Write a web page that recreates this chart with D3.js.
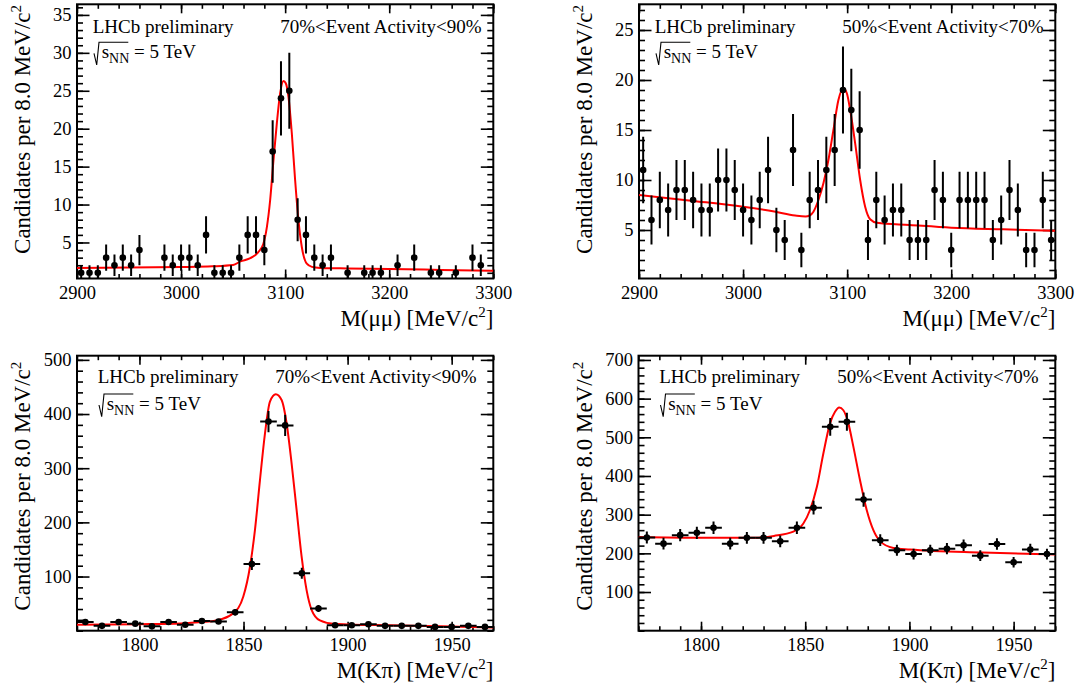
<!DOCTYPE html>
<html><head><meta charset="utf-8">
<script src="https://cdn.jsdelivr.net/npm/d3@7"></script>
<style>
html,body{margin:0;padding:0;background:#fff;}
svg{display:block;}
text{font-family:"Liberation Serif","Times New Roman",Times,serif;fill:#000;}
</style></head><body>
<svg id="chart" width="1078" height="689"></svg>
<script>
// ---------------- DATA ----------------
// J/psi -> mu mu, bin centres (8 MeV bins)
const jpsiMass = [2904,2912,2920,2928,2936,2944,2952,2960,2968,2976,2984,2992,3000,3008,3016,3024,3032,3040,3048,3056,
  3064,3072,3080,3088,3096,3104,3112,3120,3128,3136,3144,3152,3160,3168,3176,3184,3192,3200,3208,3216,
  3224,3232,3240,3248,3256,3264,3272,3280,3288,3296];
const jpsiCounts7090 = [1,1,1,3,2,3,2,4,0,0,3,2,3,3,2,6,1,1,1,3,
  6,6,4,17,24,25,8,6,3,2,3,0,1,0,1,1,1,0,2,0,
  3,0,1,1,0,1,0,3,2,0];
const jpsiCounts5070 = [11,6,8,7,9,9,8,7,7,10,10,9,7,6,8,11,5,4,13,3,
  8,9,11,13,19,17,15,4,8,6,7,7,4,4,4,9,8,3,8,8,
  8,8,4,6,9,7,3,3,8,4];
// fit curves
const jpsiFitMass7090 = [2900,2950,3000,3030,3050,3057,3066,3074,3079,3082.4,3085.6,3088.8,3092,3095.2,3098.4,3100.6,3103.2,3106.4,3109.6,3112.8,3116,3120.8,3125.7,3133.6,3160,3200,3250,3300];
const jpsiFitVal7090  = [1.65,1.70,1.76,1.85,2.02,2.5,2.9,3.7,4.8,7.0,10.6,15.9,20.7,24.7,26.3,26.0,24.2,19.4,13.2,7.9,4.4,2.2,1.78,1.65,1.57,1.5,1.38,1.26];
const jpsiFitMass5070 = [2900,2950,3000,3030,3050,3060,3064,3067.6,3072.4,3077.2,3082,3086.8,3091.6,3096.4,3099.7,3102.9,3107.7,3112.5,3117.3,3122.1,3128.6,3160,3200,3250,3300];
const jpsiFitVal5070  = [8.5,7.93,7.33,6.85,6.45,6.35,6.45,6.83,8.0,9.67,12.0,15.0,18.0,19.17,18.67,17.0,13.67,10.0,7.33,6.07,5.72,5.5,5.23,5.07,4.93];

// D0 -> K pi, bin centres (8 MeV bins)
const d0Mass = [1774,1782,1790,1798,1806,1814,1822,1830,1838,1846,1854,1862,1870,1878,1886,1894,1902,1910,1918,1926,1934,1942,1950,1958,1966];
const d0Counts7090 = [16,9,16,13,8,16,11,18,17,34,123,386,379,106,41,10,10,12,9,9,9,7,7,9,7];
const d0Counts5070 = [241,225,247,253,266,225,240,240,231,266,318,527,540,339,234,208,198,208,212,221,194,224,177,210,198];
const d0FitMass7090 = [1770,1800,1820,1830,1837,1845,1849.9,1853.1,1855.5,1857.9,1860.3,1862.7,1865.5,1868.3,1870.7,1873.1,1875.5,1877.9,1880.3,1882.7,1886.7,1893,1900,1920,1945,1970];
const d0FitVal7090  = [11,12,13.5,16,19,32,63,118,186,278,364,423,436.5,426,383,309,223,137,75,38.6,18.9,12.7,11.5,10,8,6];
const d0FitMass5070 = [1770,1800,1825,1835,1844.3,1849.1,1852.3,1855.6,1858.7,1861.9,1864.3,1866.3,1868.3,1870.7,1873.1,1876.3,1879.5,1882.7,1885.9,1892.3,1900.3,1935,1970];
const d0FitVal5070  = [242,240,240,245,256,277,312,372,458,536,566,577,570,536,476,389,312,260,231.6,214,210,202,197];

// axis ranges and tick labels
const jpsiXRange = [2900, 3300];
const d0XRange = [1770, 1970];
const jpsiXTicks = [2900, 3000, 3100, 3200, 3300];
const d0XTicks = [1800, 1850, 1900, 1950];
const yTicksJpsi7090 = [5, 10, 15, 20, 25, 30, 35];
const yTicksJpsi5070 = [5, 10, 15, 20, 25];
const yTicksD07090 = [100, 200, 300, 400, 500];
const yTicksD05070 = [100, 200, 300, 400, 500, 600, 700];
const labels = ["70%<Event Activity<90%", "50%<Event Activity<70%"];

// ---------------- LAYOUT ----------------
const panels = [
  {mass: jpsiMass, counts: jpsiCounts7090, fm: jpsiFitMass7090, fv: jpsiFitVal7090, xd: jpsiXRange, yd: [0.25, 36.4],
   xt: jpsiXTicks, xminor: 20, yt: yTicksJpsi7090, yminor: 1, label: labels[0], xtitle: "mm", xerr: false,
   box: {l: 77, r: 493.3, t: 4.3, b: 278.5}, row: 0},
  {mass: jpsiMass, counts: jpsiCounts5070, fm: jpsiFitMass5070, fv: jpsiFitVal5070, xd: jpsiXRange, yd: [0.15, 27.57],
   xt: jpsiXTicks, xminor: 20, yt: yTicksJpsi5070, yminor: 1, label: labels[1], xtitle: "mm", xerr: false,
   box: {l: 639, r: 1055.3, t: 4.3, b: 278.5}, row: 0},
  {mass: d0Mass, counts: d0Counts7090, fm: d0FitMass7090, fv: d0FitVal7090, xd: d0XRange, yd: [0, 507.7],
   xt: d0XTicks, xminor: 10, yt: yTicksD07090, yminor: 20, label: labels[0], xtitle: "kp", xerr: true,
   box: {l: 77, r: 493.3, t: 355.7, b: 630.7}, row: 1},
  {mass: d0Mass, counts: d0Counts5070, fm: d0FitMass5070, fv: d0FitVal5070, xd: d0XRange, yd: [0, 711],
   xt: d0XTicks, xminor: 10, yt: yTicksD05070, yminor: 20, label: labels[1], xtitle: "kp", xerr: true,
   box: {l: 638.5, r: 1055.3, t: 355.7, b: 630.7}, row: 1}
];
const rowText = [
  {lx: 15.7, lhcbY: 29, sqrtY: 54, rx: 11.7, ytEnd: 0.7},
  {lx: 20.7, lhcbY: 27, sqrtY: 54.3, rx: 16.8, ytEnd: 6}
];

const svg = d3.select("#chart");
const FONT = '"Liberation Serif","Times New Roman",Times,serif';

panels.forEach((p, i) => {
  const b = p.box;
  const rt = rowText[p.row];
  const x = d3.scaleLinear().domain(p.xd).range([b.l, b.r]);
  const y = d3.scaleLinear().domain(p.yd).range([b.b, b.t]);
  const g = svg.append("g");

  const clipId = "clip" + i;
  svg.append("clipPath").attr("id", clipId).append("rect")
    .attr("x", b.l).attr("y", b.t).attr("width", b.r - b.l).attr("height", b.b - b.t);

  // minor/major ticks
  const xMinorVals = d3.range(p.xd[0], p.xd[1] + 0.001, p.xminor);
  const yMinorVals = d3.range(Math.ceil(p.yd[0] / p.yminor) * p.yminor, p.yd[1], p.yminor);
  const styleAxis = sel => {
    sel.select(".domain").remove();
    sel.selectAll("line").attr("stroke", "#000").attr("stroke-width", 1.6);
    sel.attr("font-family", FONT).attr("font-size", 18.5);
    sel.selectAll("text").attr("fill", "#000");
  };
  g.append("g").attr("transform", `translate(0,${b.b})`)
    .call(d3.axisBottom(x).tickValues(xMinorVals).tickSize(-4.5).tickFormat("")).call(styleAxis);
  g.append("g").attr("transform", `translate(0,${b.b})`)
    .call(d3.axisBottom(x).tickValues(p.xt).tickSize(-9).tickPadding(7).tickFormat(d3.format("d"))).call(styleAxis);
  g.append("g").attr("transform", `translate(0,${b.t})`)
    .call(d3.axisTop(x).tickValues(xMinorVals).tickSize(-4.5).tickFormat("")).call(styleAxis);
  g.append("g").attr("transform", `translate(0,${b.t})`)
    .call(d3.axisTop(x).tickValues(p.xt).tickSize(-9).tickFormat("")).call(styleAxis);

  g.append("g").attr("transform", `translate(${b.l},0)`)
    .call(d3.axisLeft(y).tickValues(yMinorVals).tickSize(-6).tickFormat("")).call(styleAxis);
  g.append("g").attr("transform", `translate(${b.l},0)`)
    .call(d3.axisLeft(y).tickValues(p.yt).tickSize(-12.5).tickPadding(5.5).tickFormat(d3.format("d"))).call(styleAxis);
  g.append("g").attr("transform", `translate(${b.r},0)`)
    .call(d3.axisRight(y).tickValues(yMinorVals).tickSize(-6).tickFormat("")).call(styleAxis);
  g.append("g").attr("transform", `translate(${b.r},0)`)
    .call(d3.axisRight(y).tickValues(p.yt).tickSize(-12.5).tickFormat("")).call(styleAxis);

  // frame
  g.append("rect").attr("x", b.l).attr("y", b.t).attr("width", b.r - b.l).attr("height", b.b - b.t)
    .attr("fill", "none").attr("stroke", "#000").attr("stroke-width", 2);

  const plot = g.append("g").attr("clip-path", `url(#${clipId})`);

  // fit curve
  const fit = p.fm.map((m, k) => [m, p.fv[k]]);
  plot.append("path").datum(fit)
    .attr("d", d3.line().x(d => x(d[0])).y(d => y(d[1])).curve(d3.curveMonotoneX))
    .attr("fill", "none").attr("stroke", "#ff0000").attr("stroke-width", 2);

  // data points
  const pts = p.mass.map((m, k) => ({m, v: p.counts[k]})).filter(d => d.v > 0);
  const halfBin = (p.mass[1] - p.mass[0]) / 2;
  plot.selectAll(".ey").data(pts).enter().append("line")
    .attr("x1", d => x(d.m)).attr("x2", d => x(d.m))
    .attr("y1", d => y(d.v - Math.sqrt(d.v))).attr("y2", d => y(d.v + Math.sqrt(d.v)))
    .attr("stroke", "#000").attr("stroke-width", 2);
  if (p.xerr) {
    plot.selectAll(".ex").data(pts).enter().append("line")
      .attr("x1", d => x(d.m - halfBin)).attr("x2", d => x(d.m + halfBin))
      .attr("y1", d => y(d.v)).attr("y2", d => y(d.v))
      .attr("stroke", "#000").attr("stroke-width", 2);
  }
  plot.selectAll(".pt").data(pts).enter().append("circle")
    .attr("cx", d => x(d.m)).attr("cy", d => y(d.v)).attr("r", 3.3).attr("fill", "#000");

  // texts
  const tx = b.l + rt.lx;
  g.append("text").attr("x", tx).attr("y", b.t + rt.lhcbY).attr("font-size", 19).text("LHCb preliminary");
  const sb = b.t + rt.sqrtY;
  g.append("path")
    .attr("d", `M${tx + 1.3},${sb - 5} L${tx + 4},${sb + 6.7} L${tx + 6.3},${sb - 16} L${tx + 35.6},${sb - 16}`)
    .attr("fill", "none").attr("stroke", "#000").attr("stroke-width", 1.1);
  const st = g.append("text").attr("x", tx + 9).attr("y", sb).attr("font-size", 19);
  st.append("tspan").text("s");
  st.append("tspan").attr("dy", 5).attr("font-size", 14).text("NN");
  st.append("tspan").attr("dy", -5).text(" = 5 TeV");

  g.append("text").attr("x", b.r - rt.rx).attr("y", b.t + rt.lhcbY).attr("text-anchor", "end")
    .attr("font-size", 19).text(p.label);

  // x title
  const xt = g.append("text").attr("x", b.r).attr("y", b.b + 47.3).attr("text-anchor", "end").attr("font-size", 23);
  xt.append("tspan").text(p.xtitle === "mm" ? "M(\u03BC\u03BC) [MeV/c" : "M(K\u03C0) [MeV/c");
  xt.append("tspan").attr("dy", -9).attr("font-size", 15).text("2");
  xt.append("tspan").attr("dy", 9).text("]");

  // y title
  const yt = g.append("text").attr("transform", `translate(${b.l - 47},${b.t + rt.ytEnd}) rotate(-90)`)
    .attr("text-anchor", "end").attr("font-size", 23);
  yt.append("tspan").text("Candidates per 8.0 MeV/c");
  yt.append("tspan").attr("dy", -9).attr("font-size", 15).text("2");
});
</script>
</body></html>
